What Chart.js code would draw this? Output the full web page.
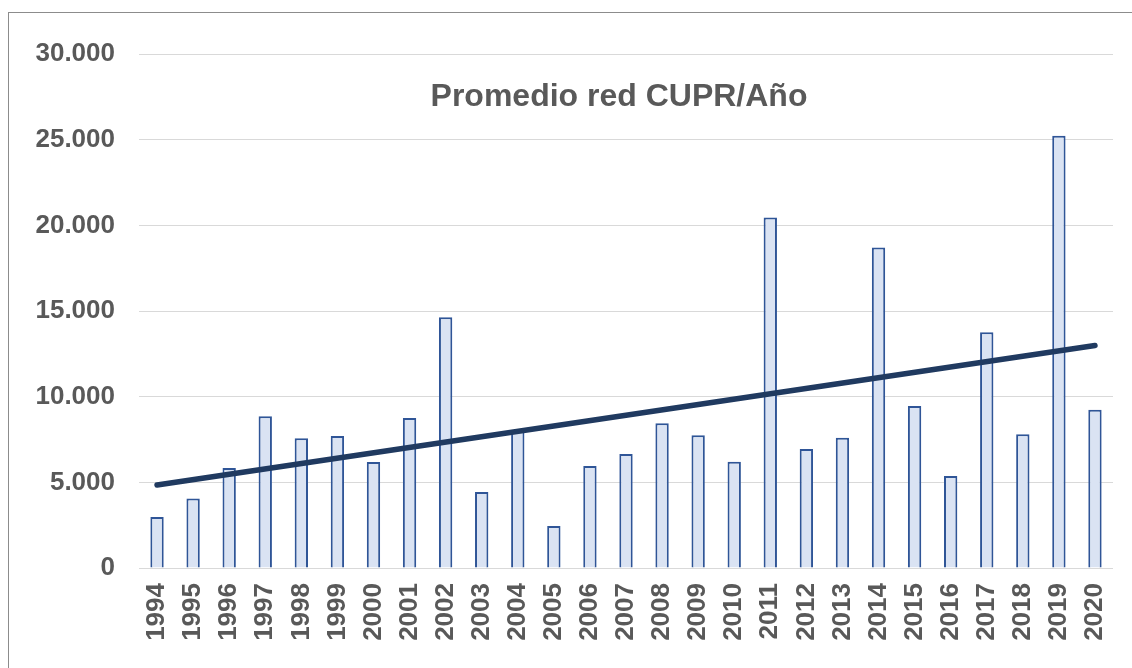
<!DOCTYPE html>
<html>
<head>
<meta charset="utf-8">
<script src="https://cdn.jsdelivr.net/npm/chart.js@4/dist/chart.umd.min.js"></script>
<style>
  html, body { margin: 0; padding: 0; background: #fff; }
  #wrap { position: relative; width: 1132px; height: 668px; overflow: hidden; }
  #frame { position: absolute; left: 8px; top: 12px; width: 1200px; height: 700px; border: 1px solid #8c8c8c; box-sizing: border-box; }
  #c { position: absolute; left: 0; top: 0; }
</style>
</head>
<body>
<div id="wrap">
  <div id="frame"></div>
  <canvas id="c" width="1132" height="668"></canvas>
</div>
<script>
// Chart data
const years = ['1994','1995','1996','1997','1998','1999','2000','2001','2002','2003','2004','2005','2006','2007',
  '2008','2009','2010','2011','2012','2013','2014','2015','2016','2017','2018','2019','2020'];
const promedio = [2980, 4050, 5830, 8850, 7580, 7700, 6180, 8750, 14630, 4430, 8000, 2450, 5950, 6650,
  8450, 7750, 6200, 20450, 6940, 7600, 18700, 9450, 5370, 13760, 7810, 25230, 9240];
// trend line values at first and last year
const trendEnds = [4840, 12990];
const yTicks = [0, 5000, 10000, 15000, 20000, 25000, 30000];

const chartTitle = 'Promedio red CUPR/Año';
const textGray = '#595959';
const fontFamily = '"Liberation Sans", Arial, sans-serif';

// line only has its two end points, gaps spanned
const trendData = years.map((y, i) => i === 0 ? trendEnds[0] : (i === years.length - 1 ? trendEnds[1] : null));

function fmt(v) {
  return String(v).replace(/\B(?=(\d{3})+(?!\d))/g, '.');
}

// Title drawn inside the plot area, like the Excel chart
const titlePlugin = {
  id: 'innerTitle',
  afterDraw(chart) {
    const ctx = chart.ctx;
    ctx.save();
    ctx.font = 'bold 32px ' + fontFamily;
    ctx.fillStyle = textGray;
    ctx.textAlign = 'center';
    ctx.textBaseline = 'alphabetic';
    ctx.fillText(chartTitle, 619, 106);
    ctx.restore();
  }
};

new Chart(document.getElementById('c'), {
  data: {
    labels: years,
    datasets: [
      {
        type: 'line',
        data: trendData,
        spanGaps: true,
        borderColor: '#203a60',
        borderWidth: 5.5,
        borderCapStyle: 'round',
        pointRadius: 0,
        fill: false
      },
      {
        type: 'bar',
        data: promedio,
        backgroundColor: '#dae3f3',
        borderColor: '#2f5597',
        borderWidth: 2,
        barPercentage: 0.37,
        categoryPercentage: 1
      }
    ]
  },
  options: {
    responsive: false,
    animation: false,
    layout: { padding: { top: 54, right: 19, bottom: 0, left: 0 } },
    plugins: {
      legend: { display: false },
      tooltip: { enabled: false }
    },
    scales: {
      x: {
        grid: { display: false, drawTicks: false },
        border: { display: false },
        ticks: {
          color: textGray,
          font: { family: fontFamily, size: 26, weight: 'bold' },
          minRotation: 90,
          maxRotation: 90,
          padding: 15,
          autoSkip: false
        },
        afterFit(scale) {
          scale.height = 100;
          scale.paddingLeft = 0;
          scale.paddingRight = 0;
        }
      },
      y: {
        min: 0,
        max: 30000,
        grid: { color: '#d9d9d9', lineWidth: 1, drawTicks: false },
        border: { display: false },
        afterBuildTicks(scale) { scale.ticks = yTicks.map(v => ({ value: v })); },
        ticks: {
          color: textGray,
          font: { family: fontFamily, size: 26, weight: 'bold' },
          padding: 24,
          callback: v => fmt(v)
        },
        afterFit(scale) { scale.width = 139; }
      }
    }
  },
  plugins: [titlePlugin]
});
</script>
</body>
</html>
